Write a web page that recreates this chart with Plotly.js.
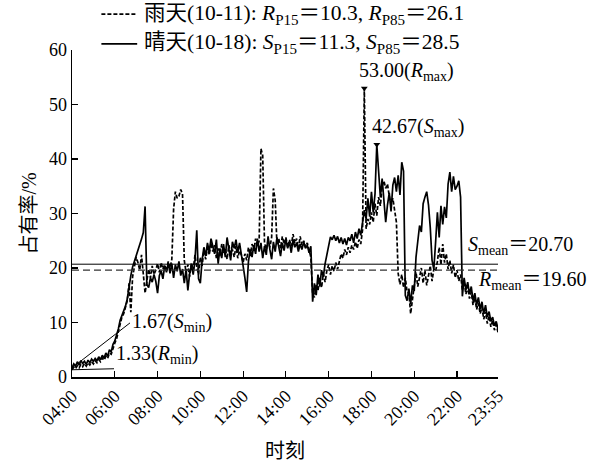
<!DOCTYPE html>
<html>
<head>
<meta charset="utf-8">
<script src="https://cdn.plot.ly/plotly-3.0.1.min.js"></script>
<style>html,body{margin:0;padding:0;background:#fff;}#chart{width:594px;height:462px;}</style>
</head>
<body>
<div id="chart"></div>
<script>
// 5-minute samples from 04:00 to 23:55
const rainyValues = [
  1.33,1.8,1.5,2.1,1.7,2.3,1.9,2.5,2.0,2.6,2.2,2.8,
  2.4,3.0,2.6,3.2,2.8,3.5,3.1,3.8,3.4,4.4,4.2,5.4,
  6.2,7.0,8.4,9.8,11.0,11.6,12.6,14.0,17.2,11.9,18.4,20.6,
  22.0,21.0,19.6,22.4,18.4,15.4,17.6,19.8,18.2,20.4,18.8,19.6,
  20.8,19.2,21.0,19.8,20.6,19.4,21.2,20.0,21.6,30.8,34.0,32.8,
  33.2,34.4,33.6,21.4,19.2,20.6,18.4,21.0,19.6,22.4,20.2,18.8,
  22.0,20.4,23.2,21.6,23.8,22.4,24.6,23.0,24.2,21.8,23.6,22.2,
  24.4,22.8,23.6,21.6,24.2,22.6,23.4,22.0,24.0,21.8,23.2,22.4,
  21.0,22.6,21.4,23.8,22.2,24.4,23.2,25.4,24.0,25.0,41.9,40.6,
  24.6,23.4,25.0,23.8,25.6,34.6,32.4,24.2,25.4,23.6,25.8,24.4,
  25.6,23.8,25.2,24.0,26.2,24.6,25.4,23.6,25.8,24.2,25.0,23.8,
  24.6,23.4,22.0,15.2,14.6,17.0,15.8,18.2,16.4,19.0,17.4,19.6,
  20.6,18.8,20.4,19.4,21.0,19.8,21.4,22.6,21.8,23.4,22.4,23.8,
  22.8,24.2,23.4,24.8,23.6,25.2,24.4,27.0,53.0,27.2,29.0,28.0,
  30.2,28.4,31.8,29.6,33.0,31.4,35.0,36.0,34.6,35.4,33.2,31.6,
  32.8,30.6,28.4,19.0,17.0,18.8,16.4,18.2,15.6,15.4,11.6,14.2,
  17.0,19.2,16.6,18.4,20.0,17.2,19.6,16.8,18.8,20.4,17.6,19.8,
  19.4,21.2,23.8,20.6,24.4,21.0,22.6,19.8,21.4,19.0,20.6,18.2,
  19.6,17.6,18.8,16.0,17.4,15.2,16.6,14.4,15.6,13.2,14.6,12.4,
  13.6,11.6,12.8,10.6,12.0,9.8,11.2,9.2,10.4,8.6,9.6,8.2
];
const sunnyValues = [
  1.67,2.4,2.0,2.8,2.2,3.0,2.5,2.9,2.3,3.1,2.6,3.3,
  2.9,3.4,3.0,3.7,3.2,4.0,3.5,4.4,3.8,5.0,4.6,6.0,
  6.6,7.5,8.8,10.4,11.2,11.9,13.0,14.3,16.8,18.6,20.2,21.2,
  22.0,23.4,24.2,25.3,26.5,31.3,17.0,16.4,18.2,17.4,18.8,17.6,
  15.4,18.6,19.5,18.0,20.4,19.2,21.0,19.0,20.8,18.2,20.6,19.4,
  21.2,18.6,19.8,17.2,19.8,15.9,19.0,20.5,18.8,21.5,26.9,18.0,
  17.2,21.5,23.8,22.2,24.6,23.0,25.4,24.0,22.6,25.2,20.8,23.6,
  21.8,24.4,22.0,25.6,23.2,21.4,24.8,23.6,25.2,22.8,24.6,22.0,
  20.4,18.2,15.6,21.2,23.4,22.0,24.2,22.6,25.4,23.0,24.6,21.8,
  24.0,22.4,25.8,23.4,21.6,24.8,23.0,25.6,23.8,22.2,24.6,23.2,
  25.4,23.6,24.8,22.8,25.2,23.8,24.6,23.0,24.4,23.4,24.8,23.6,
  24.2,22.8,24.0,13.8,17.2,15.0,18.8,16.6,19.6,18.4,20.8,22.6,
  24.0,25.7,25.2,26.0,25.0,25.8,24.6,25.6,24.4,25.4,24.2,25.6,
  25.0,26.2,24.6,26.6,25.4,27.2,26.0,28.4,30.6,29.0,32.8,29.4,
  34.0,30.2,33.6,42.67,37.0,33.0,36.4,32.2,28.4,31.6,33.8,30.4,
  35.2,36.6,34.0,37.0,33.4,39.4,37.8,15.0,14.0,16.2,13.4,16.8,
  15.8,22.0,25.4,27.8,26.6,31.8,33.0,34.0,31.6,27.4,21.4,19.8,
  24.8,30.2,25.6,31.4,28.0,31.2,29.2,35.4,37.6,34.0,36.8,34.4,
  35.0,36.0,33.0,14.8,18.2,16.0,17.4,15.2,16.6,14.0,15.4,13.2,
  14.6,12.4,13.8,11.6,13.2,11.0,12.0,10.2,11.0,9.4,10.2,8.8
];
const tickHours = [4, 6, 8, 10, 12, 14, 16, 18, 20, 22, 23 + 55/60];
const tickLabels = ['04:00','06:00','08:00','10:00','12:00','14:00','16:00','18:00','20:00','22:00','23:55'];
const rainyMean = 19.60;
const sunnyMean = 20.70;
const rainyName = '雨天(10-11): <i>R</i><sub>P15</sub>＝10.3, <i>R</i><sub>P85</sub>＝26.1';
const sunnyName = '晴天(10-18): <i>S</i><sub>P15</sub>＝11.3, <i>S</i><sub>P85</sub>＝28.5';

const times = rainyValues.map((_, i) => 4 + i / 12);

function extreme(arr, fn) {
  let idx = 0;
  arr.forEach((v, i) => { if (fn(v, arr[idx])) idx = i; });
  return idx;
}
const rMaxI = extreme(rainyValues, (a, b) => a > b);
const sMaxI = extreme(sunnyValues, (a, b) => a > b);
const rMinI = extreme(rainyValues, (a, b) => a < b);
const sMinI = extreme(sunnyValues, (a, b) => a < b);

const FONT = "'Liberation Serif', 'Times New Roman', 'Noto Sans CJK SC', serif";
const RAIN_DASH = '4px,2px';

const traces = [
  {x: times, y: rainyValues, type: 'scatter', mode: 'lines', name: rainyName,
   line: {color: '#000', width: 1.7, dash: RAIN_DASH}},
  {x: times, y: sunnyValues, type: 'scatter', mode: 'lines', name: sunnyName,
   line: {color: '#000', width: 1.7}},
  {x: [times[rMaxI], times[sMaxI]], y: [rainyValues[rMaxI], sunnyValues[sMaxI]],
   type: 'scatter', mode: 'markers', showlegend: false, cliponaxis: false,
   marker: {symbol: 'triangle-down', size: 6, color: '#000'}}
];

// legend drawn in paper coordinates (rows above the plot area)
const legRows = [
  {name: rainyName, dash: RAIN_DASH, y: 1.11},
  {name: sunnyName, dash: 'solid', y: 1.019}
];

const layout = {
  width: 594, height: 462,
  margin: {l: 72, r: 96, t: 50, b: 85},
  paper_bgcolor: '#fff', plot_bgcolor: '#fff',
  font: {family: FONT, size: 18, color: '#000'},
  showlegend: false,
  xaxis: {
    range: [4, 23 + 55/60], tickmode: 'array', tickvals: tickHours, ticktext: tickLabels,
    tickangle: -45, ticks: 'inside', ticklen: 6, tickwidth: 1.2, tickcolor: '#000',
    showline: true, linecolor: '#000', linewidth: 1.5, showgrid: false, zeroline: false,
    tickfont: {family: FONT, size: 18},
    title: {text: '时刻', font: {family: FONT, size: 20}, standoff: 16}
  },
  yaxis: {
    range: [0, 60], dtick: 10, ticks: 'inside', ticklen: 6, tickwidth: 1.2, tickcolor: '#000',
    showline: true, linecolor: '#000', linewidth: 1.5, showgrid: false, zeroline: false,
    tickfont: {family: FONT, size: 18},
    title: {text: '占有率/%', font: {family: FONT, size: 20}, standoff: 7}
  },
  shapes: [
    {type: 'line', xref: 'x', yref: 'y', x0: 4, x1: 23 + 55/60, y0: sunnyMean, y1: sunnyMean,
     line: {color: '#000', width: 1}},
    {type: 'line', xref: 'x', yref: 'y', x0: 4, x1: 23 + 55/60, y0: rainyMean, y1: rainyMean,
     line: {color: '#333', width: 1.2, dash: '7px,4px'}}
  ].concat(legRows.map(r => ({
    type: 'line', xref: 'paper', yref: 'paper', x0: 0.069, x1: 0.153, y0: r.y, y1: r.y,
    line: {color: '#000', width: 1.7, dash: r.dash}
  }))),
  annotations: [
    {x: times[sMinI], y: sunnyValues[sMinI], xref: 'x', yref: 'y', showarrow: true,
     arrowhead: 0, arrowwidth: 1, arrowcolor: '#000', ax: 58, ay: -45,
     xanchor: 'left', yanchor: 'middle',
     text: sunnyValues[sMinI].toFixed(2) + '(<i>S</i><sub>min</sub>)', font: {size: 20}},
    {x: times[rMinI], y: rainyValues[rMinI], xref: 'x', yref: 'y', showarrow: true,
     arrowhead: 0, arrowwidth: 1, arrowcolor: '#000', ax: 42, ay: -1,
     xanchor: 'left', yanchor: 'bottom',
     text: rainyValues[rMinI].toFixed(2) + '(<i>R</i><sub>min</sub>)', font: {size: 20}},
    {x: times[rMaxI], y: rainyValues[rMaxI], xref: 'x', yref: 'y', showarrow: false,
     xanchor: 'left', yanchor: 'bottom', xshift: -7, yshift: 2,
     text: rainyValues[rMaxI].toFixed(2) + '(<i>R</i><sub>max</sub>)', font: {size: 20}},
    {x: times[sMaxI], y: sunnyValues[sMaxI], xref: 'x', yref: 'y', showarrow: false,
     xanchor: 'left', yanchor: 'bottom', xshift: -7, yshift: 2,
     text: sunnyValues[sMaxI].toFixed(2) + '(<i>S</i><sub>max</sub>)', font: {size: 20}},
    {x: 0.925, y: sunnyMean, xref: 'paper', yref: 'y', showarrow: false,
     xanchor: 'left', yanchor: 'bottom', yshift: 4,
     text: '<i>S</i><sub>mean</sub>＝' + sunnyMean.toFixed(2), font: {size: 20}},
    {x: 0.948, y: rainyMean, xref: 'paper', yref: 'y', showarrow: false,
     xanchor: 'left', yanchor: 'top', yshift: 4,
     text: '<i>R</i><sub>mean</sub>＝' + rainyMean.toFixed(2), font: {size: 20}}
  ].concat(legRows.map(r => ({
    x: 0.164, y: r.y, xref: 'paper', yref: 'paper', showarrow: false,
    xanchor: 'left', yanchor: 'middle', text: r.name, font: {size: 21.5}
  })))
};

Plotly.newPlot('chart', traces, layout, {displayModeBar: false, staticPlot: true});
</script>
</body>
</html>
